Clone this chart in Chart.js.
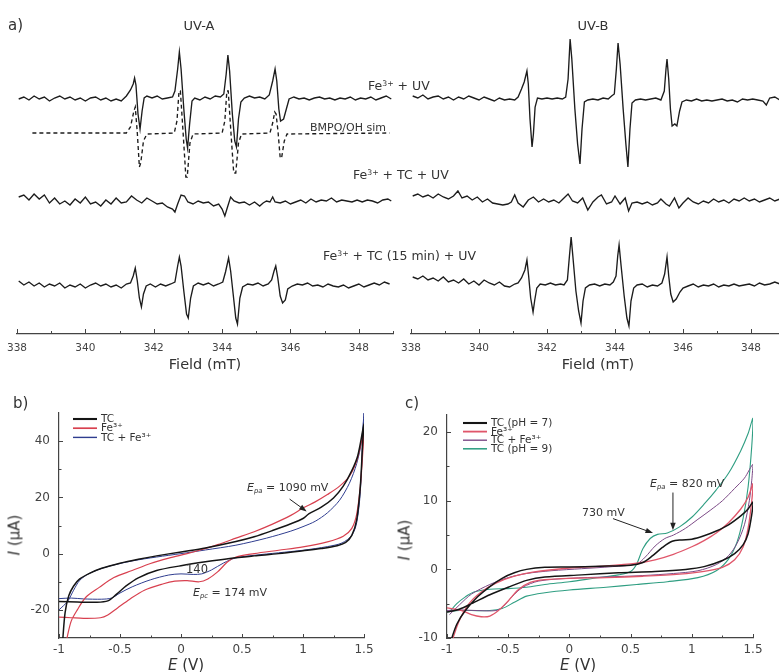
<!DOCTYPE html>
<html>
<head>
<meta charset="utf-8">
<script src="https://cdn.jsdelivr.net/npm/chart.js@4.4.1/dist/chart.umd.min.js"></script>
<style>
  html, body { margin: 0; padding: 0; background: #fff; width: 779px; height: 672px; overflow: hidden; position: relative; }
  body { font-family: "DejaVu Sans", sans-serif; color: #333; }
  canvas { position: absolute; }
  .t { position: absolute; white-space: nowrap; line-height: 1; transform: translateY(-50%); }
  .c { transform: translate(-50%, -50%); }
  .r { transform: translate(-50%, -50%) rotate(-90deg); }
  sup { font-size: 0.62em; position: relative; top: -0.5em; vertical-align: baseline; }
  sub { font-size: 0.62em; position: relative; top: 0.3em; vertical-align: baseline; font-style: italic; }
</style>
</head>
<body>
<canvas id="eprA" width="395" height="380" style="left:0;top:0"></canvas>
<canvas id="eprB" width="400" height="380" style="left:395px;top:0"></canvas>
<canvas id="cvB" width="395" height="290" style="left:0;top:385px"></canvas>
<canvas id="cvC" width="384" height="290" style="left:395px;top:385px"></canvas>

<div class="t" style="left:8px;top:25px;font-size:15px">a)</div>
<div class="t c" style="left:199px;top:25px;font-size:13px">UV-A</div>
<div class="t c" style="left:593px;top:25px;font-size:13px">UV-B</div>
<div class="t" style="left:368px;top:86px;font-size:12.5px">Fe<sup>3+</sup> + UV</div>
<div class="t" style="left:310px;top:127px;font-size:11px">BMPO/OH sim</div>
<div class="t" style="left:353px;top:175px;font-size:12.5px">Fe<sup>3+</sup> + TC + UV</div>
<div class="t" style="left:323px;top:256px;font-size:12.5px">Fe<sup>3+</sup> + TC (15 min) + UV</div>

<div class="t" style="left:13px;top:403px;font-size:15px">b)</div>
<div class="t" style="left:405px;top:403px;font-size:15px">c)</div>
<div class="t" style="left:247px;top:487px;font-size:11px"><i>E</i><sub>pa</sub> = 1090 mV</div>
<div class="t" style="left:186px;top:570px;font-size:11.5px">140</div>
<div class="t" style="left:193px;top:592px;font-size:11px"><i>E</i><sub>pc</sub> = 174 mV</div>
<div class="t" style="left:650px;top:483px;font-size:11px"><i>E</i><sub>pa</sub> = 820 mV</div>
<div class="t" style="left:582px;top:512px;font-size:11px">730 mV</div>
<div class="t c" style="left:186px;top:665px;font-size:15px"><i>E</i> (V)</div>
<div class="t c" style="left:578px;top:665px;font-size:15px"><i>E</i> (V)</div>
<div class="t r" style="left:15px;top:535px;font-size:15px"><i>I</i> (μA)</div>
<div class="t r" style="left:405px;top:540px;font-size:15px"><i>I</i> (μA)</div>

<script>
// ---- EPR (a): field in mT, signal in a.u. (0 = baseline, up = positive)
const fieldTicks = [338, 340, 342, 344, 346, 348];
const fieldMinor = [339, 341, 343, 345, 347, 349];

const uvaFeUV = [[338.05,0],[338.2,2],[338.35,-1],[338.5,3],[338.65,0],[338.8,2],[338.95,-2],[339.1,1],[339.25,3],[339.4,0],[339.55,2],[339.7,-1],[339.85,1],[340.0,-2],[340.15,1],[340.3,2],[340.45,-1],[340.6,1],[340.75,-2],[340.9,0],[341.05,-2],[341.2,3],[341.32,9],[341.4,15],[341.44,21],[341.48,14],[341.54,-15],[341.6,-30],[341.66,-12],[341.72,1],[341.8,3],[341.95,1],[342.1,3],[342.25,0],[342.4,1],[342.55,2],[342.62,8],[342.7,30],[342.75,47],[342.8,30],[342.88,-10],[342.95,-40],[342.99,-49],[343.05,-25],[343.12,-2],[343.2,1],[343.35,-1],[343.5,2],[343.65,0],[343.8,3],[343.95,2],[344.05,5],[344.12,25],[344.17,44],[344.22,28],[344.3,-15],[344.37,-42],[344.42,-48],[344.48,-20],[344.55,-3],[344.65,1],[344.8,3],[344.95,1],[345.1,2],[345.25,0],[345.38,4],[345.48,18],[345.55,30],[345.6,18],[345.66,-10],[345.71,-22],[345.8,-20],[345.88,-10],[345.96,0],[346.1,2],[346.25,0],[346.4,1],[346.55,-1],[346.7,1],[346.85,2],[347.0,0],[347.15,1],[347.3,-1],[347.45,1],[347.6,0],[347.75,2],[347.9,-1],[348.05,1],[348.2,0],[348.35,2],[348.5,-1],[348.65,1],[348.8,3],[348.95,0]];
const uvaSim = [[338.45,0],[341.2,0],[341.32,6],[341.42,22],[341.46,26],[341.52,0],[341.58,-34],[341.62,-30],[341.7,-8],[341.8,-1],[342.6,0],[342.68,12],[342.74,42],[342.78,42],[342.86,0],[342.94,-44],[342.98,-44],[343.06,-10],[343.15,-1],[344.0,0],[344.08,12],[344.14,42],[344.18,42],[344.26,0],[344.34,-40],[344.4,-40],[344.48,-10],[344.57,-1],[345.4,0],[345.48,10],[345.54,21],[345.58,19],[345.64,0],[345.7,-25],[345.74,-25],[345.82,-8],[345.9,-1],[348.9,0]];
const uvaTcUV = [[338.05,3],[338.2,5],[338.35,0],[338.5,6],[338.65,1],[338.8,5],[338.95,-3],[339.1,2],[339.25,-4],[339.4,-1],[339.55,-5],[339.7,1],[339.85,-3],[340.0,3],[340.15,-4],[340.3,-2],[340.45,-6],[340.6,0],[340.75,-4],[340.9,2],[341.05,-3],[341.2,-2],[341.35,4],[341.5,0],[341.65,-3],[341.8,2],[341.95,-1],[342.1,-4],[342.25,-3],[342.4,-7],[342.55,-9],[342.62,-12],[342.7,-4],[342.8,5],[342.9,4],[343.0,-2],[343.15,-4],[343.3,-1],[343.45,-3],[343.6,-2],[343.75,-6],[343.9,-4],[344.0,-9],[344.08,-16],[344.15,-8],[344.25,3],[344.35,-1],[344.5,-3],[344.65,-2],[344.8,-5],[344.95,-2],[345.1,-6],[345.2,-3],[345.3,-1],[345.4,-2],[345.48,3],[345.55,-2],[345.7,-3],[345.85,-1],[346.0,-4],[346.15,-2],[346.3,0],[346.45,-3],[346.6,1],[346.75,-2],[346.9,0],[347.05,-1],[347.2,2],[347.35,-2],[347.5,0],[347.65,-1],[347.8,-2],[347.95,0],[348.1,-2],[348.25,0],[348.4,-1],[348.55,-3],[348.7,0],[348.85,1],[348.95,-1]];
const uvaTc15 = [[338.05,5],[338.2,1],[338.35,4],[338.5,0],[338.65,3],[338.8,-1],[338.95,2],[339.1,0],[339.25,3],[339.4,-2],[339.55,1],[339.7,-1],[339.85,2],[340.0,-2],[340.15,1],[340.3,3],[340.45,0],[340.6,2],[340.75,-1],[340.9,1],[341.05,-2],[341.2,2],[341.32,3],[341.4,10],[341.46,18],[341.52,5],[341.58,-12],[341.64,-21],[341.7,-8],[341.78,0],[341.9,2],[342.05,-1],[342.2,2],[342.35,0],[342.5,2],[342.62,4],[342.7,20],[342.75,29],[342.8,20],[342.88,-5],[342.96,-28],[343.01,-32],[343.08,-12],[343.16,0],[343.3,3],[343.45,1],[343.6,3],[343.75,0],[343.9,2],[344.02,4],[344.1,14],[344.19,28],[344.25,15],[344.33,-10],[344.4,-32],[344.45,-38],[344.52,-12],[344.6,-1],[344.75,2],[344.9,1],[345.05,3],[345.2,0],[345.35,2],[345.45,6],[345.52,15],[345.57,20],[345.63,8],[345.7,-10],[345.77,-17],[345.85,-14],[345.92,-3],[346.05,0],[346.2,2],[346.35,1],[346.5,3],[346.65,0],[346.8,1],[346.95,-1],[347.1,2],[347.25,0],[347.4,-1],[347.55,1],[347.7,-2],[347.85,0],[348.0,2],[348.15,-1],[348.3,1],[348.45,3],[348.6,1],[348.75,4],[348.9,2]];

const uvbFeUV = [[338.05,3],[338.2,1],[338.35,4],[338.5,0],[338.65,2],[338.8,3],[338.95,0],[339.1,2],[339.25,-1],[339.4,2],[339.55,0],[339.7,3],[339.85,1],[340.0,-1],[340.15,2],[340.3,0],[340.45,-2],[340.6,1],[340.75,-1],[340.9,0],[341.05,-1],[341.15,2],[341.25,10],[341.33,17],[341.41,28],[341.45,15],[341.5,-20],[341.56,-48],[341.6,-35],[341.65,-8],[341.72,1],[341.85,0],[342.0,1],[342.15,0],[342.3,1],[342.45,0],[342.55,2],[342.62,20],[342.68,60],[342.73,40],[342.82,-10],[342.9,-45],[342.97,-65],[343.03,-30],[343.1,-3],[343.2,-1],[343.35,0],[343.5,-1],[343.65,1],[343.8,0],[343.9,3],[343.98,5],[344.04,30],[344.09,56],[344.15,35],[344.24,-10],[344.32,-45],[344.38,-68],[344.44,-30],[344.5,-4],[344.6,-1],[344.75,0],[344.9,-1],[345.05,0],[345.2,1],[345.35,-1],[345.45,8],[345.5,30],[345.53,40],[345.58,20],[345.63,-10],[345.68,-27],[345.76,-25],[345.82,-27],[345.9,-12],[345.97,-3],[346.1,-1],[346.25,-2],[346.4,0],[346.55,-2],[346.7,-1],[346.85,-2],[347.0,-1],[347.15,0],[347.3,-2],[347.45,-1],[347.6,-3],[347.75,0],[347.9,-1],[348.05,0],[348.2,-1],[348.35,-2],[348.45,-6],[348.55,1],[348.7,2],[348.85,-1],[349.0,0]];
const uvbTcUV = [[338.05,4],[338.2,6],[338.35,3],[338.5,5],[338.65,2],[338.8,6],[338.95,3],[339.1,1],[339.25,4],[339.38,9],[339.5,2],[339.65,4],[339.8,0],[339.95,3],[340.1,-2],[340.25,1],[340.4,-3],[340.55,-4],[340.7,-5],[340.85,-4],[340.95,-2],[341.05,5],[341.15,-3],[341.3,-7],[341.45,0],[341.6,3],[341.75,-2],[341.9,1],[342.05,-2],[342.2,0],[342.35,-3],[342.5,2],[342.62,6],[342.75,-1],[342.9,-3],[343.05,2],[343.2,-10],[343.35,-2],[343.5,3],[343.6,5],[343.75,-4],[343.9,-2],[344.0,4],[344.15,-4],[344.3,2],[344.4,-11],[344.5,-3],[344.65,-2],[344.8,-4],[344.95,-2],[345.1,-5],[345.25,-3],[345.35,1],[345.5,-4],[345.6,-6],[345.75,2],[345.88,-8],[346.0,-3],[346.15,2],[346.3,-2],[346.45,-4],[346.6,-1],[346.75,-3],[346.9,1],[347.05,-2],[347.2,0],[347.35,-3],[347.5,1],[347.65,-1],[347.8,2],[347.95,-1],[348.1,1],[348.25,-2],[348.4,0],[348.55,2],[348.7,-1],[348.85,1],[349.0,0]];
const uvbTc15 = [[338.05,9],[338.2,7],[338.35,10],[338.5,6],[338.65,8],[338.8,5],[338.95,9],[339.1,4],[339.25,6],[339.4,3],[339.55,7],[339.7,2],[339.85,5],[340.0,1],[340.15,6],[340.3,3],[340.45,1],[340.6,4],[340.75,0],[340.9,-1],[341.05,2],[341.15,3],[341.25,8],[341.35,16],[341.41,26],[341.46,10],[341.52,-12],[341.59,-26],[341.64,-14],[341.7,-2],[341.8,2],[341.95,1],[342.1,3],[342.25,1],[342.4,2],[342.5,1],[342.6,6],[342.66,30],[342.71,49],[342.76,30],[342.85,-5],[342.93,-25],[343.0,-37],[343.06,-15],[343.13,-2],[343.25,1],[343.4,2],[343.55,0],[343.7,2],[343.85,1],[343.95,4],[344.03,10],[344.08,30],[344.12,41],[344.18,20],[344.27,-10],[344.35,-32],[344.41,-40],[344.47,-15],[344.55,-2],[344.65,1],[344.8,2],[344.95,-1],[345.1,1],[345.25,0],[345.38,3],[345.46,12],[345.53,29],[345.58,10],[345.64,-8],[345.71,-16],[345.8,-13],[345.91,-6],[346.0,-2],[346.15,0],[346.3,2],[346.45,-1],[346.6,1],[346.75,0],[346.9,2],[347.05,-1],[347.2,1],[347.35,0],[347.5,2],[347.65,0],[347.8,1],[347.95,2],[348.1,0],[348.25,3],[348.4,1],[348.55,2],[348.7,4],[348.85,2],[349.0,3]];

// ---- CV: [E (V), I (µA)], anodic sweep then return
const eTicks = [-1, -0.5, 0, 0.5, 1, 1.5];
const eMinor = [-0.75, -0.25, 0.25, 0.75, 1.25];
const iTicksB = [-20, 0, 20, 40];
const iMinorB = [-10, 10, 30];
const iTicksC = [-10, 0, 10, 20];
const iMinorC = [-5, 5, 15];

const cvB_TC = [[-0.97,-31],[-0.95,-21],[-0.92,-15],[-0.88,-11.5],[-0.83,-9],[-0.75,-7],[-0.65,-5.2],[-0.5,-3.4],[-0.35,-2],[-0.2,-0.8],[0,0.6],[0.2,2],[0.45,4.3],[0.6,6],[0.75,8.2],[0.9,10.6],[1.0,12.5],[1.05,14.2],[1.15,16.5],[1.25,19.8],[1.33,24],[1.4,29.5],[1.45,35],[1.5,46],
  [1.49,40],[1.47,24],[1.44,12],[1.4,6.5],[1.35,4],[1.28,2.8],[1.15,1.8],[1.0,1],[0.8,0],[0.6,-0.8],[0.4,-1.7],[0.2,-2.9],[0,-4.3],[-0.2,-6],[-0.35,-8.6],[-0.45,-11.5],[-0.53,-14.5],[-0.6,-16.8],[-0.7,-17.3],[-0.85,-17.2],[-1,-17]];
const cvB_Fe = [[-0.94,-31],[-0.9,-24],[-0.85,-20],[-0.78,-15.5],[-0.67,-12],[-0.55,-8.5],[-0.4,-6],[-0.25,-3.5],[-0.1,-1.6],[0.05,0],[0.15,1.2],[0.3,3.2],[0.45,5.5],[0.6,7.8],[0.75,10.5],[0.9,13.6],[1.0,16.2],[1.1,18.4],[1.2,21],[1.3,24],[1.38,27.5],[1.44,33],[1.48,40],[1.5,44],
  [1.49,36],[1.47,24],[1.44,14],[1.4,9],[1.33,6.2],[1.2,4.2],[1.0,2.4],[0.8,1.2],[0.6,0],[0.45,-1.2],[0.38,-3],[0.3,-6.5],[0.22,-9],[0.15,-10],[0.05,-9.6],[-0.05,-9.8],[-0.15,-10.8],[-0.3,-13],[-0.42,-16.2],[-0.52,-19.3],[-0.6,-21.8],[-0.66,-22.8],[-0.8,-23],[-0.9,-22.8],[-1,-22.6]];
const cvB_TCFe = [[-1,-20],[-0.93,-17],[-0.88,-13],[-0.83,-9.5],[-0.75,-7],[-0.6,-4.6],[-0.4,-2.6],[-0.2,-1.2],[0,0],[0.2,1.3],[0.45,3],[0.7,5.5],[0.9,8],[1.0,9.6],[1.1,11.5],[1.2,14.5],[1.3,19],[1.38,25],[1.44,32],[1.48,40],[1.5,50],
  [1.49,42],[1.47,22],[1.44,11],[1.4,6.5],[1.32,3.8],[1.2,2.5],[1.0,1.2],[0.8,0.3],[0.6,-0.6],[0.45,-1.5],[0.35,-3.3],[0.25,-5.8],[0.17,-7.2],[0.1,-7.4],[0,-7.2],[-0.1,-7.6],[-0.25,-9.3],[-0.4,-11.8],[-0.5,-14],[-0.57,-15.8],[-0.65,-16.2],[-0.8,-16.1],[-0.9,-15.8],[-1,-16]];

const cvC_TC7 = [[-0.97,-10.5],[-0.92,-8],[-0.85,-6],[-0.75,-4],[-0.65,-2.5],[-0.55,-1.3],[-0.45,-0.5],[-0.35,0],[-0.2,0.3],[0,0.35],[0.25,0.45],[0.5,0.6],[0.6,1],[0.68,2],[0.76,3.2],[0.84,4.1],[0.92,4.3],[1.0,4.4],[1.1,4.9],[1.2,5.6],[1.3,6.5],[1.4,7.8],[1.46,8.8],[1.5,9.8],
  [1.49,8],[1.46,5.2],[1.42,3.6],[1.35,2.3],[1.25,1.3],[1.1,0.4],[0.95,0],[0.7,-0.3],[0.4,-0.5],[0.1,-0.8],[-0.2,-1.1],[-0.35,-1.6],[-0.5,-2.6],[-0.65,-3.7],[-0.8,-5],[-0.9,-5.8],[-1,-6.2]];
const cvC_Fe = [[-0.96,-10.5],[-0.9,-7.5],[-0.82,-5],[-0.72,-3.3],[-0.6,-2],[-0.45,-1],[-0.3,-0.4],[0,0.2],[0.3,0.5],[0.55,0.9],[0.7,1.4],[0.85,2.2],[1.0,3.3],[1.1,4.2],[1.2,5.3],[1.3,6.8],[1.4,8.8],[1.46,10.5],[1.5,12.5],
  [1.49,10],[1.46,6],[1.42,3.3],[1.35,1.4],[1.25,0.3],[1.1,-0.3],[0.9,-0.7],[0.6,-1],[0.3,-1.2],[0,-1.3],[-0.2,-1.5],[-0.32,-1.9],[-0.42,-3],[-0.5,-4.6],[-0.58,-6],[-0.65,-6.8],[-0.72,-6.9],[-0.8,-6.6],[-0.88,-6],[-1,-5.6]];
const cvC_TCFe = [[-0.98,-6.6],[-0.9,-5.2],[-0.8,-3.6],[-0.65,-2.2],[-0.5,-1.2],[-0.35,-0.6],[-0.15,-0.2],[0.1,0.1],[0.35,0.4],[0.55,0.8],[0.62,1.8],[0.7,3.4],[0.78,4.5],[0.85,5],[0.95,6],[1.05,7.3],[1.15,8.6],[1.25,10],[1.35,11.8],[1.43,13.3],[1.5,15.3],
  [1.49,13],[1.47,10],[1.43,6.5],[1.37,3.8],[1.3,2],[1.2,0.7],[1.05,-0.2],[0.85,-0.6],[0.6,-0.9],[0.3,-1.1],[0,-1.3],[-0.25,-1.7],[-0.38,-2.6],[-0.47,-4],[-0.54,-5.4],[-0.6,-6],[-0.75,-6],[-0.9,-5.9],[-1,-6]];
const cvC_TC9 = [[-0.98,-6.2],[-0.92,-5],[-0.85,-4],[-0.78,-3.3],[-0.65,-2.9],[-0.5,-2.8],[-0.35,-2.6],[-0.2,-2.2],[0,-1.8],[0.2,-1.3],[0.4,-0.8],[0.5,-0.3],[0.55,0.8],[0.6,3],[0.66,4.5],[0.72,5.1],[0.8,5.3],[0.9,6.2],[1.0,7.6],[1.1,9.5],[1.2,11.6],[1.3,14],[1.4,17.3],[1.46,19.8],[1.5,22],
  [1.49,18],[1.46,12],[1.42,7.5],[1.37,4],[1.3,1.5],[1.2,-0.2],[1.05,-1.2],[0.8,-1.8],[0.55,-2.2],[0.3,-2.6],[0,-3],[-0.2,-3.4],[-0.35,-3.9],[-0.45,-4.8],[-0.55,-5.7],[-0.65,-6],[-0.8,-6],[-0.9,-6],[-1,-6.2]];

Chart.defaults.font.family = '"DejaVu Sans", sans-serif';
Chart.defaults.color = '#333';

// tick marks pointing inwards, arrows and in-plot legend
const extras = {
  id: 'extras',
  afterDraw(chart, args, o) {
    const ctx = chart.ctx, a = chart.chartArea, sx = chart.scales.x, sy = chart.scales.y;
    ctx.save();
    ctx.strokeStyle = '#444';
    ctx.lineWidth = 1;
    (o.xt || []).forEach(([vals, len]) => vals.forEach(v => {
      const p = Math.round(sx.getPixelForValue(v)) + 0.5;
      ctx.beginPath(); ctx.moveTo(p, a.bottom); ctx.lineTo(p, a.bottom - len); ctx.stroke();
    }));
    (o.yt || []).forEach(([vals, len]) => vals.forEach(v => {
      const p = Math.round(sy.getPixelForValue(v)) + 0.5;
      ctx.beginPath(); ctx.moveTo(a.left, p); ctx.lineTo(a.left + len, p); ctx.stroke();
    }));
    (o.arrows || []).forEach(([x0, y0, x1, y1]) => {
      const px0 = sx.getPixelForValue(x0), py0 = sy.getPixelForValue(y0);
      const px1 = sx.getPixelForValue(x1), py1 = sy.getPixelForValue(y1);
      const ang = Math.atan2(py1 - py0, px1 - px0);
      ctx.strokeStyle = '#222'; ctx.fillStyle = '#222'; ctx.lineWidth = 1;
      ctx.beginPath(); ctx.moveTo(px0, py0); ctx.lineTo(px1 - 5 * Math.cos(ang), py1 - 5 * Math.sin(ang)); ctx.stroke();
      ctx.beginPath();
      ctx.moveTo(px1, py1);
      ctx.lineTo(px1 - 8 * Math.cos(ang - 0.35), py1 - 8 * Math.sin(ang - 0.35));
      ctx.lineTo(px1 - 8 * Math.cos(ang + 0.35), py1 - 8 * Math.sin(ang + 0.35));
      ctx.closePath(); ctx.fill();
    });
    if (o.legend) {
      const L = o.legend;
      ctx.font = L.size + 'px "DejaVu Sans", sans-serif';
      ctx.textBaseline = 'middle';
      chart.data.datasets.forEach((d, i) => {
        const y = a.top + L.y + i * L.dy;
        ctx.strokeStyle = d.borderColor; ctx.lineWidth = d.borderWidth * 1.4;
        ctx.beginPath(); ctx.moveTo(a.left + L.x, y); ctx.lineTo(a.left + L.x + 24, y); ctx.stroke();
        ctx.fillStyle = '#333';
        ctx.fillText(d.label, a.left + L.x + 28, y + 0.5);
      });
    }
    ctx.restore();
  }
};

function fixX(h) {
  return s => { s.height = h; s.paddingLeft = 0; s.paddingRight = 0; };
}
function fixY(w) {
  return s => { s.width = w; s.paddingTop = 0; s.paddingBottom = 0; };
}
function setTicks(vals) {
  return s => { s.ticks = vals.map(v => ({ value: v })); };
}

const stackBase = { fe: 235, sim: 201, tc: 134, tc15: 48 };

function eprChart(id, traces, pad) {
  return new Chart(document.getElementById(id), {
    type: 'scatter',
    data: {
      datasets: traces.map(t => ({
        data: t.pts.map(([x, y]) => ({ x: x, y: y + stackBase[t.row] })),
        showLine: true, borderColor: '#1c1c1c', borderWidth: 1.35,
        borderDash: t.dash || [], pointRadius: 0, tension: 0
      }))
    },
    options: {
      responsive: false, animation: false, devicePixelRatio: 1,
      layout: { padding: pad },
      plugins: {
        legend: { display: false }, tooltip: { enabled: false },
        extras: { xt: [[fieldTicks, 5], [fieldMinor, 3]] }
      },
      scales: {
        x: {
          type: 'linear', min: 338, max: 349,
          grid: { display: false, drawTicks: false },
          border: { display: true, color: '#444', width: 1.2 },
          ticks: { padding: 8, font: { size: 10.5 }, color: '#444', callback: v => String(v) },
          afterBuildTicks: setTicks(fieldTicks),
          afterFit: fixX(40),
          title: { display: true, text: 'Field (mT)', font: { size: 14.5 }, color: '#333', padding: { top: 0, bottom: 0 } }
        },
        y: { display: false, min: 0, max: 300 }
      }
    },
    plugins: [extras]
  });
}

eprChart('eprA', [
  { pts: uvaFeUV, row: 'fe' },
  { pts: uvaSim, row: 'sim', dash: [4, 3] },
  { pts: uvaTcUV, row: 'tc' },
  { pts: uvaTc15, row: 'tc15' }
], { left: 17, right: 2, top: 34, bottom: 6 });

eprChart('eprB', [
  { pts: uvbFeUV, row: 'fe' },
  { pts: uvbTcUV, row: 'tc' },
  { pts: uvbTc15, row: 'tc15' }
], { left: 16, right: 10, top: 34, bottom: 6 });

function cvChart(id, series, yMin, yMax, yTicks, yMinor, yw, pad, legend, arrows) {
  return new Chart(document.getElementById(id), {
    type: 'scatter',
    data: {
      datasets: series.map(s => ({
        label: s.label, data: s.pts.map(([x, y]) => ({ x: x, y: y })),
        showLine: true, borderColor: s.color, borderWidth: s.w,
        pointRadius: 0, tension: 0.3
      }))
    },
    options: {
      responsive: false, animation: false, devicePixelRatio: 1,
      layout: { padding: pad },
      plugins: {
        legend: { display: false }, tooltip: { enabled: false },
        extras: { xt: [[eTicks, 4], [eMinor, 2.5]], yt: [[yTicks, 4], [yMinor, 2.5]], legend: legend, arrows: arrows }
      },
      scales: {
        x: {
          type: 'linear', min: -1, max: 1.5,
          grid: { display: false, drawTicks: false },
          border: { display: true, color: '#444', width: 1.2 },
          ticks: { padding: 5, font: { size: 12 }, color: '#444', callback: v => String(v) },
          afterBuildTicks: setTicks(eTicks),
          afterFit: fixX(30)
        },
        y: {
          type: 'linear', min: yMin, max: yMax,
          grid: { display: false, drawTicks: false },
          border: { display: true, color: '#444', width: 1.2 },
          ticks: { padding: 9, font: { size: 12 }, color: '#444', callback: v => String(v) },
          afterBuildTicks: setTicks(yTicks),
          afterFit: fixY(yw)
        }
      }
    },
    plugins: [extras]
  });
}

cvChart('cvB', [
  { label: 'TC', pts: cvB_TC, color: '#151515', w: 1.5 },
  { label: 'Fe³⁺', pts: cvB_Fe, color: '#d8404f', w: 1.2 },
  { label: 'TC + Fe³⁺', pts: cvB_TCFe, color: '#2f3d8f', w: 1 }
], -30, 50, iTicksB, iMinorB, 55,
  { left: 4, right: 31, top: 28, bottom: 7 },
  { x: 14, y: 6, dy: 9.2, size: 10.5 },
  [[0.89, 19.4, 1.03, 15]]);

cvChart('cvC', [
  { label: 'TC (pH = 7)', pts: cvC_TC7, color: '#151515', w: 1.5 },
  { label: 'Fe³⁺', pts: cvC_Fe, color: '#e0566a', w: 1.3 },
  { label: 'TC + Fe³⁺', pts: cvC_TCFe, color: '#7c4a86', w: 1 },
  { label: 'TC (pH = 9)', pts: cvC_TC9, color: '#2f9e82', w: 1.1 }
], -10, 22.5, iTicksC, iMinorC, 48,
  { left: 4, right: 26, top: 30, bottom: 7 },
  { x: 16, y: 8, dy: 8.6, size: 10.5 },
  [[0.846, 11.2, 0.846, 5.7], [0.356, 7.4, 0.683, 5.3]]);
</script>
</body>
</html>
